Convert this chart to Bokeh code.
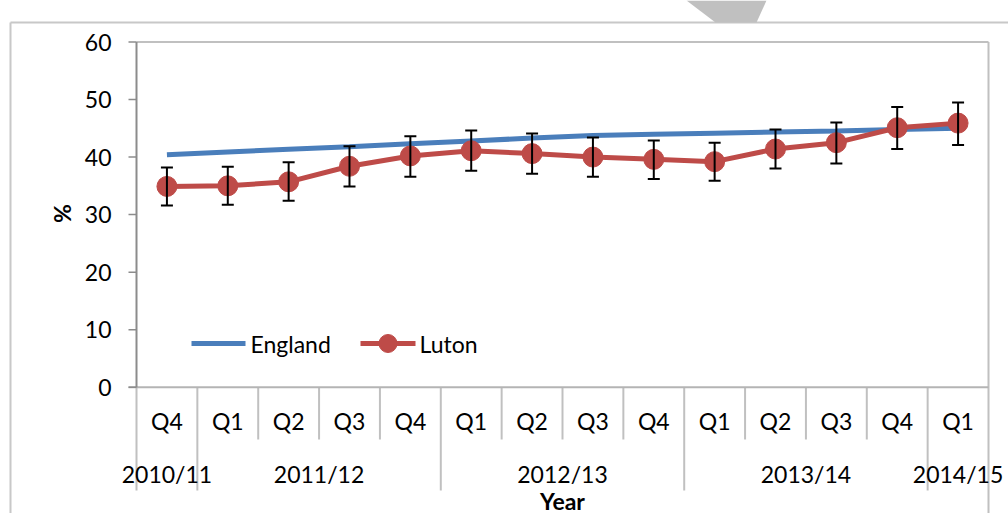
from bokeh.plotting import figure
from bokeh.models import Range1d, ColumnDataSource, Whisker, TeeHead
from bokeh.embed import file_html
from bokeh.resources import INLINE
from bokeh.core.properties import value

# ---------------- data ----------------
quarters = ["Q4", "Q1", "Q2", "Q3", "Q4", "Q1", "Q2", "Q3", "Q4", "Q1", "Q2", "Q3", "Q4", "Q1"]
years = ["2010/11", "2011/12", "2012/13", "2013/14", "2014/15"]
year_counts = [1, 4, 4, 4, 1]
england = [40.4, 40.9, 41.35, 41.8, 42.3, 42.8, 43.3, 43.75, 43.95, 44.15, 44.35, 44.55, 44.8, 45.0]
luton = [34.9, 35.0, 35.7, 38.4, 40.2, 41.1, 40.6, 40.0, 39.6, 39.2, 41.4, 42.5, 45.1, 45.9]
luton_upper = [38.2, 38.3, 39.1, 41.9, 43.6, 44.6, 44.1, 43.4, 42.9, 42.5, 44.8, 46.0, 48.7, 49.5]
luton_lower = [31.6, 31.7, 32.4, 34.9, 36.6, 37.6, 37.1, 36.6, 36.2, 35.9, 38.0, 38.9, 41.4, 42.1]
y_ticks = [0, 10, 20, 30, 40, 50, 60]
series_names = ["England", "Luton"]

# ---------------- layout (page pixels) ----------------
FIG_W, FIG_H = 1008, 513
ORIGIN_X, ORIGIN_Y = 0, 0
PLOT_L, PLOT_R = 136.0, 988.0
Y0_PX, Y60_PX = 386.7, 41.5
N = len(quarters)
CAT_W = (PLOT_R - PLOT_L) / N
PX_PER_UNIT = (Y0_PX - Y60_PX) / 60.0


def px_x(page_x):
    return (page_x - PLOT_L) / CAT_W - 0.5


def px_y(page_y):
    return (Y0_PX - page_y) / PX_PER_UNIT


FONT = value("Lato")
FS = "23px"
BLUE = "#4A7EBB"
RED = "#BE4B48"
AXIS_DARK = "#8C8C8C"
AXIS_LIGHT = "#B4B4B4"
SEP = "#C0C0C0"

p = figure(width=FIG_W, height=FIG_H, output_backend="svg", toolbar_location=None,
           x_range=Range1d(px_x(ORIGIN_X), px_x(ORIGIN_X + FIG_W)),
           y_range=Range1d(px_y(ORIGIN_Y + FIG_H), px_y(ORIGIN_Y)),
           x_axis_location=None, y_axis_location=None,
           min_border=0, min_border_left=0, min_border_right=0,
           min_border_top=0, min_border_bottom=0)
p.grid.visible = False
p.outline_line_color = None
p.background_fill_color = "white"
p.border_fill_color = "white"

xs = list(range(N))
x_lo, x_hi = -0.5, N - 0.5
y_bottom = px_y(ORIGIN_Y + FIG_H)

# outer chart frame (left and top) + grey shape at top
p.segment(x0=[px_x(10), px_x(10)], y0=[px_y(22), px_y(22)],
          x1=[px_x(10), px_x(1008)], y1=[y_bottom, px_y(22)],
          line_color="#C8C8C8", line_width=2)
p.patch(x=[px_x(686), px_x(766), px_x(756), px_x(715)],
        y=[px_y(0), px_y(0), px_y(22), px_y(22)],
        fill_color="#C0C0C0", line_color=None)

# plot-area border (top & right)
p.segment(x0=[x_lo, x_hi], y0=[y_ticks[-1], y_ticks[-1]],
          x1=[x_hi, x_hi], y1=[y_ticks[-1], y_bottom],
          line_color=SEP, line_width=2)

# category separators
bounds = [0]
for c in year_counts:
    bounds.append(bounds[-1] + c)
year_bounds = set(bounds)
short_x, long_x = [], []
for i in range(0, N + 1):
    if i in year_bounds:
        long_x.append(i - 0.5)
    else:
        short_x.append(i - 0.5)
p.segment(x0=short_x, y0=[0] * len(short_x), x1=short_x, y1=[px_y(439)] * len(short_x),
          line_color=SEP, line_width=2)
long_plain = [v for v in long_x if v not in (x_lo, x_hi)]
p.segment(x0=long_plain + [x_lo], y0=[0] * (len(long_plain) + 1),
          x1=long_plain + [x_lo], y1=[px_y(490)] * (len(long_plain) + 1),
          line_color=SEP, line_width=2)

# x axis line
p.segment(x0=[px_x(128)], y0=[0], x1=[x_hi], y1=[0], line_color=AXIS_LIGHT, line_width=2)

# y axis line + ticks
p.segment(x0=[x_lo], y0=[0], x1=[x_lo], y1=[y_ticks[-1]], line_color=AXIS_DARK, line_width=2)
p.segment(x0=[px_x(128)] * len(y_ticks), y0=y_ticks, x1=[x_lo] * len(y_ticks), y1=y_ticks,
          line_color=AXIS_DARK, line_width=1.5)
p.text(x=[px_x(111)] * len(y_ticks), y=y_ticks, text=[str(t) for t in y_ticks],
       text_font=FONT, text_font_size=FS, text_color="black",
       text_align="right", text_baseline="middle")
p.text(x=[px_x(61)], y=[px_y(213)], text=["%"], angle=1.5708,
       text_font=FONT, text_font_size=FS, text_font_style="bold", text_color="black",
       text_align="center", text_baseline="middle")

# category labels
p.text(x=xs, y=[px_y(420)] * N, text=quarters,
       text_font=FONT, text_font_size=FS, text_color="black",
       text_align="center", text_baseline="middle")
year_centers = [(bounds[k] + bounds[k + 1]) / 2 - 0.5 for k in range(len(years))]
p.text(x=year_centers, y=[px_y(473)] * len(years), text=years,
       text_font=FONT, text_font_size=FS, text_color="black",
       text_align="center", text_baseline="middle")
p.text(x=[(x_lo + x_hi) / 2], y=[px_y(500)], text=["Year"],
       text_font=FONT, text_font_size=FS, text_font_style="bold", text_color="black",
       text_align="center", text_baseline="middle")

# error bars
src = ColumnDataSource(dict(x=xs, upper=luton_upper, lower=luton_lower))
wh = Whisker(source=src, base="x", upper="upper", lower="lower", dimension="height",
             line_color="black", line_width=2, level="glyph",
             upper_head=TeeHead(size=12, line_color="black", line_width=2),
             lower_head=TeeHead(size=12, line_color="black", line_width=2))
p.add_layout(wh)

# series
p.line(x=xs, y=england, line_color=BLUE, line_width=5)
p.line(x=xs, y=luton, line_color=RED, line_width=5)
p.scatter(x=xs, y=luton, size=20, fill_color=RED, line_color=RED)

# legend (manual)
leg_y = px_y(343)
p.segment(x0=[px_x(191)], y0=[leg_y], x1=[px_x(245)], y1=[leg_y], line_color=BLUE, line_width=5)
p.segment(x0=[px_x(360)], y0=[leg_y], x1=[px_x(415)], y1=[leg_y], line_color=RED, line_width=5)
p.scatter(x=[px_x(387.5)], y=[leg_y], size=18, fill_color=RED, line_color=RED)
p.text(x=[px_x(250), px_x(419)], y=[leg_y, leg_y], text=series_names,
       text_font=FONT, text_font_size=FS, text_color="black",
       text_align="left", text_baseline="middle")

open("out.html", "w").write(file_html(p, INLINE))
